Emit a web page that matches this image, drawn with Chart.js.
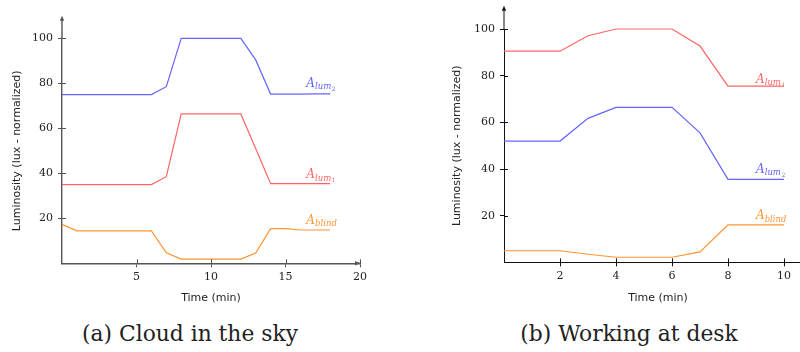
<!DOCTYPE html>
<html>
<head>
<meta charset="utf-8">
<script src="https://cdn.jsdelivr.net/npm/chart.js@4.4.0/dist/chart.umd.min.js"></script>
<style>
  html, body { margin: 0; padding: 0; background: #fff; overflow: hidden; }
  #wrap { position: relative; width: 800px; height: 352px; overflow: hidden; }
  canvas { position: absolute; top: 0; }
  .cap {
    position: absolute; top: 324px; width: 400px; text-align: center;
    font-family: "DejaVu Serif", serif; font-size: 21.8px; line-height: 20px; color: #222;
  }
</style>
</head>
<body>
<div id="wrap">
  <canvas id="cloud" width="400" height="320" style="left:0;width:400px;height:320px"></canvas>
  <canvas id="desk" width="380" height="320" style="left:440px;width:380px;height:320px"></canvas>
  <div class="cap" style="left:-10px">(a) Cloud in the sky</div>
  <div class="cap" style="left:429px">(b) Working at desk</div>
</div>
<script>
// (a) Cloud in the sky, one point per minute
var cloudTime  = [0, 1, 2, 3, 4, 5, 6, 7, 8, 9, 10, 11, 12, 13, 14, 15, 16, 17, 18];
var cloudLum2  = [75, 75, 75, 75, 75, 75, 75, 78.5, 100, 100, 100, 100, 100, 90.4, 75.2, 75.2, 75.2, 75.3, 75.3];
var cloudLum1  = [35, 35, 35, 35, 35, 35, 35, 38.5, 66.4, 66.4, 66.4, 66.4, 66.4, 51, 35.4, 35.4, 35.4, 35.4, 35.4];
var cloudBlind = [17.3, 14.4, 14.4, 14.4, 14.4, 14.4, 14.4, 4.7, 1.9, 1.9, 1.9, 1.9, 1.9, 4.6, 15.4, 15.4, 14.8, 14.8, 14.8];
var cloudXTicks = [5, 10, 15, 20];

// (b) Working at desk
var deskTime  = [0, 1, 2, 3, 4, 5, 6, 7, 8, 9, 10];
var deskLum1  = [90.5, 90.5, 90.5, 97.1, 100, 100, 100, 92.7, 75.5, 75.5, 75.5];
var deskLum2  = [52, 52, 52, 61.7, 66.4, 66.4, 66.4, 55.5, 35.6, 35.6, 35.6];
var deskBlind = [5, 5, 5, 3.5, 2.2, 2.2, 2.2, 4.5, 16.1, 16.1, 16.1];
var deskXTicks = [2, 4, 6, 8, 10];

var yTicks = [20, 40, 60, 80, 100];

// series label text: A with subscript and sub-subscript, and where it sits (data units)
var seriesSub    = {lum1: 'lum', lum2: 'lum', blind: 'blind'};
var seriesSubSub = {lum1: '1', lum2: '2', blind: ''};
var cloudLabelX = 16.4;
var cloudLabelY = {lum2: 78.4, lum1: 37.8, blind: 17.5};
var deskLabelX = 9;
var deskLabelY = {lum1: 77.0, lum2: 38.4, blind: 18.5};

var BLUE = '#6464ff', RED = '#ff6464', ORANGE = '#ff9430';

function arrowHead(ctx, x, y, dir) {
  // dir: 'up' or 'right'
  ctx.beginPath();
  if (dir === 'up') {
    ctx.moveTo(x, y); ctx.lineTo(x - 2.2, y + 5); ctx.lineTo(x + 2.2, y + 5);
  } else {
    ctx.moveTo(x, y); ctx.lineTo(x - 5, y - 2.2); ctx.lineTo(x - 5, y + 2.2);
  }
  ctx.closePath();
  ctx.fill();
}

function drawSeriesLabel(ctx, px, py, sub, subsub, color) {
  ctx.fillStyle = color;
  ctx.textAlign = 'left';
  ctx.textBaseline = 'alphabetic';
  ctx.font = 'italic 12px "DejaVu Serif"';
  ctx.fillText('A', px, py);
  var w = ctx.measureText('A').width;
  ctx.font = 'italic 8.5px "DejaVu Serif"';
  ctx.fillText(sub, px + w, py + 2.5);
  var w2 = ctx.measureText(sub).width;
  if (subsub) {
    ctx.font = '6px "DejaVu Serif"';
    ctx.fillText(subsub, px + w + w2 + 0.5, py + 4);
  }
}

// axis arrows, the inner half of the tick marks and the series labels
var axisExtras = {
  id: 'axisExtras',
  afterDraw: function(chart) {
    var o = chart.options.plugins.axisExtras;
    var ctx = chart.ctx, area = chart.chartArea;
    var x = chart.scales.x, y = chart.scales.y;
    ctx.save();
    ctx.strokeStyle = o.axisColor;
    ctx.fillStyle = o.axisColor;
    ctx.lineWidth = o.axisWidth;

    var ax = area.left, ay = area.bottom;
    var yTip = y.getPixelForValue(o.yArrow);
    ctx.beginPath(); ctx.moveTo(ax, area.top); ctx.lineTo(ax, yTip + 3); ctx.stroke();
    arrowHead(ctx, ax, yTip, 'up');
    var xTip = x.getPixelForValue(o.xArrow);
    ctx.beginPath(); ctx.moveTo(area.right, ay); ctx.lineTo(xTip - 3, ay); ctx.stroke();
    arrowHead(ctx, xTip, ay, 'right');

    ctx.lineWidth = 1;
    x.ticks.forEach(function(t) {
      var px = Math.round(x.getPixelForValue(t.value)) + 0.5;
      ctx.beginPath(); ctx.moveTo(px, ay); ctx.lineTo(px, ay - 4); ctx.stroke();
    });
    y.ticks.forEach(function(t) {
      var py = Math.round(y.getPixelForValue(t.value)) + 0.5;
      ctx.beginPath(); ctx.moveTo(ax, py); ctx.lineTo(ax + 4, py); ctx.stroke();
    });

    chart.data.datasets.forEach(function(ds) {
      drawSeriesLabel(ctx, x.getPixelForValue(o.labelX), y.getPixelForValue(o.labelY[ds.key]),
                      seriesSub[ds.key], seriesSubSub[ds.key], ds.borderColor);
    });
    ctx.restore();
  }
};

function series(key, time, values, color) {
  return {
    key: key,
    data: time.map(function(t, i) { return {x: t, y: values[i]}; }),
    borderColor: color,
    borderWidth: 1.2,
    pointRadius: 0,
    tension: 0,
    clip: false
  };
}

function makeChart(id, datasets, s) {
  return new Chart(document.getElementById(id), {
    type: 'line',
    data: {datasets: datasets},
    plugins: [axisExtras],
    options: {
      responsive: false,
      animation: false,
      events: [],
      layout: {padding: {left: 0, top: s.top, right: s.right, bottom: 0}},
      plugins: {
        legend: {display: false},
        tooltip: {enabled: false},
        axisExtras: {axisColor: s.axisColor, axisWidth: s.axisWidth, yArrow: 110, xArrow: s.xArrow,
                     labelX: s.labelX, labelY: s.labelY}
      },
      scales: {
        x: {
          type: 'linear', min: 0, max: s.xMax,
          afterBuildTicks: function(scale) { scale.ticks = s.xTicks.map(function(v) { return {value: v}; }); },
          afterFit: function(scale) {
            scale.height = s.xHeight;
            scale.paddingLeft = 0; scale.paddingRight = 0;
          },
          border: {display: true, color: s.axisColor, width: s.axisWidth},
          grid: {display: true, drawOnChartArea: false, tickLength: 4, tickColor: s.axisColor, tickWidth: 1},
          ticks: {padding: 3, color: '#222', font: {family: 'DejaVu Serif', size: 11}, maxRotation: 0},
          title: {display: true, text: 'Time (min)', color: '#222',
                  font: {family: 'DejaVu Sans', size: 11}, padding: {top: 0, bottom: 15.4}}
        },
        y: {
          type: 'linear', min: 0, max: 100,
          afterBuildTicks: function(scale) { scale.ticks = yTicks.map(function(v) { return {value: v}; }); },
          afterFit: function(scale) {
            scale.width = s.yWidth;
            scale.paddingTop = 0; scale.paddingBottom = 0;
          },
          border: {display: true, color: s.axisColor, width: s.axisWidth},
          grid: {display: true, drawOnChartArea: false, tickLength: 4, tickColor: s.axisColor, tickWidth: 1},
          ticks: {padding: 5, color: '#222', font: {family: 'DejaVu Serif', size: 11}},
          title: {display: true, text: 'Luminosity (lux - normalized)', color: '#222',
                  font: {family: 'DejaVu Sans', size: 11}, padding: {top: 10.4, bottom: 0}}
        }
      }
    }
  });
}

makeChart('cloud', [
  series('lum2', cloudTime, cloudLum2, BLUE),
  series('lum1', cloudTime, cloudLum1, RED),
  series('blind', cloudTime, cloudBlind, ORANGE)
], {top: 38.3, right: 40, xMax: 20, xTicks: cloudXTicks, xHeight: 56.7, yWidth: 62, xArrow: 20,
    axisColor: '#555', axisWidth: 1.4, labelX: cloudLabelX, labelY: cloudLabelY});

makeChart('desk', [
  series('lum1', deskTime, deskLum1, RED),
  series('lum2', deskTime, deskLum2, BLUE),
  series('blind', deskTime, deskBlind, ORANGE)
], {top: 29, right: 8, xMax: 11, xTicks: deskXTicks, xHeight: 57.6, yWidth: 64, xArrow: 11,
    axisColor: '#111', axisWidth: 1, labelX: deskLabelX, labelY: deskLabelY});
</script>
</body>
</html>
